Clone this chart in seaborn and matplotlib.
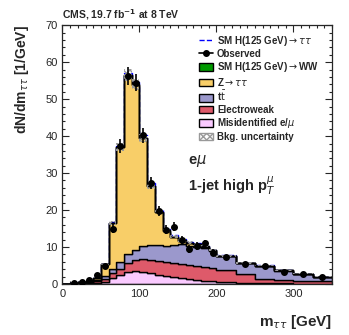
import numpy as np
import pandas as pd
import matplotlib
matplotlib.use("Agg")
import matplotlib.pyplot as plt
import seaborn as sns
from matplotlib.patches import Patch
from matplotlib.lines import Line2D


# bin edges of the m_tautau histogram
edges = [0, 10, 20, 30, 40, 50, 60, 70, 80, 90, 100, 110, 120, 130, 140,
         150, 160, 170, 180, 190, 200, 225, 250, 275, 300, 325, 350]

# stacked backgrounds (dN/dm per bin), bottom to top
fakes = [0.0, 0.05, 0.1, 0.2, 0.3, 0.6, 1.6, 2.4, 3.4, 3.6, 3.3, 2.9, 2.4,
         2.1, 1.8, 1.6, 1.3, 1.1, 0.9, 0.8, 0.6, 0.4, 0.3, 0.2, 0.15, 0.1]
ewk = [0.0, 0.05, 0.15, 0.25, 0.4, 0.7, 1.3, 1.6, 2.4, 2.9, 3.5, 3.7, 3.8,
       3.9, 4.0, 3.9, 3.9, 3.9, 3.8, 3.5, 3.2, 2.2, 1.2, 1.0, 0.75, 0.6]
ttbar = [0.03, 0.05, 0.1, 0.2, 0.4, 0.9, 1.3, 2.0, 2.2, 2.7, 3.4, 4.0, 4.4,
         4.4, 4.8, 5.2, 5.2, 5.1, 5.1, 4.6, 3.7, 3.0, 3.4, 2.4, 1.8, 1.25]
ztt = [0.02, 0.05, 0.15, 0.25, 0.5, 3.1, 12.3, 31.0, 48.4, 44.7, 29.2, 15.8,
       8.8, 4.0, 2.1, 1.0, 0.7, 0.6, 0.35, 0.25, 0.16, 0.07, 0.08, 0.08,
       0.09, 0.04]
hww = [0, 0, 0, 0, 0, 0, 0.02, 0.05, 0.08, 0.1, 0.12, 0.12, 0.12, 0.12, 0.1,
       0.1, 0.08, 0.07, 0.06, 0.05, 0.04, 0.03, 0.02, 0.02, 0.01, 0.01]

# SM H(125) -> tautau added on top of the stack
htt = [0, 0, 0, 0, 0, 0.05, 0.15, 0.3, 0.5, 0.6, 0.7, 0.7, 0.6, 0.5, 0.4,
       0.3, 0.25, 0.2, 0.15, 0.1, 0.08, 0.05, 0.03, 0.02, 0.01, 0.01]

# background uncertainty (half width)
bkg_unc = [0.01, 0.01, 0.02, 0.03, 0.05, 0.15, 0.5, 1.1, 1.6, 1.5, 1.1, 0.8,
           0.6, 0.45, 0.4, 0.35, 0.35, 0.35, 0.3, 0.3, 0.25, 0.2, 0.2, 0.15,
           0.12, 0.1]

# observed data
obs_x = [15, 25, 35, 45, 55, 65, 75, 85, 95, 105, 115, 125, 135, 145, 155,
         165, 175, 185, 195, 212.5, 237.5, 262.5, 287.5, 312.5, 337.5]
obs_y = [0.2, 0.5, 1.2, 2.4, 4.8, 15.0, 37.3, 56.2, 54.4, 40.2, 27.4, 19.7,
         14.7, 15.5, 11.8, 9.5, 10.3, 11.0, 8.5, 7.3, 5.4, 4.8, 3.3, 2.6, 1.8]
obs_err = [0.15, 0.25, 0.35, 0.5, 0.7, 1.2, 1.9, 2.4, 2.3, 2.0, 1.6, 1.4,
           1.2, 1.2, 1.1, 1.0, 1.0, 1.05, 0.9, 0.55, 0.45, 0.45, 0.35, 0.3,
           0.27]


sns.set_style("ticks")
plt.rcParams["font.family"] = ["Liberation Sans", "DejaVu Sans"]
plt.rcParams["mathtext.fontset"] = "dejavusans"

edge_arr = np.array(edges, dtype=float)
centers = 0.5 * (edge_arr[:-1] + edge_arr[1:])

procs = {
    "hww": hww,
    "ztt": ztt,
    "tt": ttbar,
    "ewk": ewk,
    "fakes": fakes,
}
colors = {
    "hww": "#009a00",
    "ztt": "#f8ce68",
    "tt": "#9b98cc",
    "ewk": "#de5a6a",
    "fakes": "#facaff",
}

rows = []
for name, vals in procs.items():
    for c, v in zip(centers, vals):
        rows.append({"m": c, "w": v, "proc": name})
df = pd.DataFrame(rows)

fig = plt.figure(figsize=(3.49, 3.35), dpi=100)
ax = fig.add_axes([0.179, 0.152, 0.772, 0.773])

sns.histplot(
    data=df,
    x="m",
    weights="w",
    hue="proc",
    hue_order=list(procs.keys()),
    palette=colors,
    bins=list(edges),
    multiple="stack",
    element="step",
    edgecolor="black",
    linewidth=1.0,
    alpha=1,
    legend=False,
    ax=ax,
)

total = np.sum([np.array(v) for v in procs.values()], axis=0)

ax.stairs(
    total + np.array(bkg_unc),
    edge_arr,
    baseline=total - np.array(bkg_unc),
    fill=True,
    facecolor="none",
    edgecolor="#999999",
    hatch="xxxxx",
    linewidth=0,
    zorder=1.5,
)

# signal line sits behind the stack outline
ax.stairs(
    total + np.array(htt),
    edge_arr,
    color="blue",
    linestyle="--",
    linewidth=1.0,
    zorder=0.9,
)

ax.errorbar(
    obs_x,
    obs_y,
    yerr=obs_err,
    fmt="o",
    color="black",
    markersize=4,
    elinewidth=1.2,
    capsize=0,
    zorder=3,
)

ax.set_xlim(0, 350)
ax.set_ylim(0, 70)
ax.set_xticks([0, 100, 200, 300])
ax.set_xticks(np.arange(0, 351, 10), minor=True)
ax.set_yticks(np.arange(0, 71, 10))
ax.set_yticks(np.arange(0, 71, 2), minor=True)
ax.tick_params(which="both", direction="in", top=True, right=True,
               labelsize=8, width=0.8)
ax.tick_params(which="major", length=5)
ax.tick_params(which="minor", length=2.5)
for s in ax.spines.values():
    s.set_linewidth(0.9)

ax.set_xlabel(r"m$_{\tau\tau}$ [GeV]", fontsize=11, fontweight="bold",
              loc="right", labelpad=10)
ax.set_ylabel(r"dN/dm$_{\tau\tau}$ [1/GeV]", fontsize=10,
              fontweight="bold", loc="top", labelpad=10)

ax.text(0.0, 1.012, r"CMS, 19.7 fb$^{\mathbf{-1}}$ at 8 TeV",
        transform=ax.transAxes, fontsize=7.5, fontweight="bold",
        va="bottom", ha="left")

ax.text(0.465, 0.475, r"e$\mu$", transform=ax.transAxes, fontsize=10.5,
        fontweight="bold", va="center", ha="left")
ax.text(0.465, 0.38, r"1-jet high p$_{T}^{\mu}$", transform=ax.transAxes,
        fontsize=10.5, fontweight="bold", va="center", ha="left")

handles = [
    Line2D([0], [0], color="blue", linestyle="--", linewidth=1.0),
    Line2D([0], [0], color="black", marker="o", markersize=4, linewidth=1.2),
    Patch(facecolor=colors["hww"], edgecolor="black"),
    Patch(facecolor=colors["ztt"], edgecolor="black"),
    Patch(facecolor=colors["tt"], edgecolor="black"),
    Patch(facecolor=colors["ewk"], edgecolor="black"),
    Patch(facecolor=colors["fakes"], edgecolor="black"),
    Patch(facecolor="white", edgecolor="#999999", hatch="xxxxx"),
]
labels = [
    r"SM H(125 GeV)$\rightarrow\tau\tau$",
    "Observed",
    r"SM H(125 GeV)$\rightarrow$WW",
    r"Z$\rightarrow\tau\tau$",
    r"t$\bar{\mathrm{t}}$",
    "Electroweak",
    r"Misidentified e/$\mu$",
    "Bkg. uncertainty",
]
ax.legend(
    handles,
    labels,
    loc="upper left",
    bbox_to_anchor=(0.5, 0.975),
    frameon=False,
    prop={"size": 7, "weight": "bold"},
    handlelength=1.4,
    handleheight=0.8,
    handletextpad=0.45,
    labelspacing=0.15,
    borderaxespad=0.0,
    borderpad=0.2,
)

plt.savefig("out.png", dpi=100)
plt.close()
